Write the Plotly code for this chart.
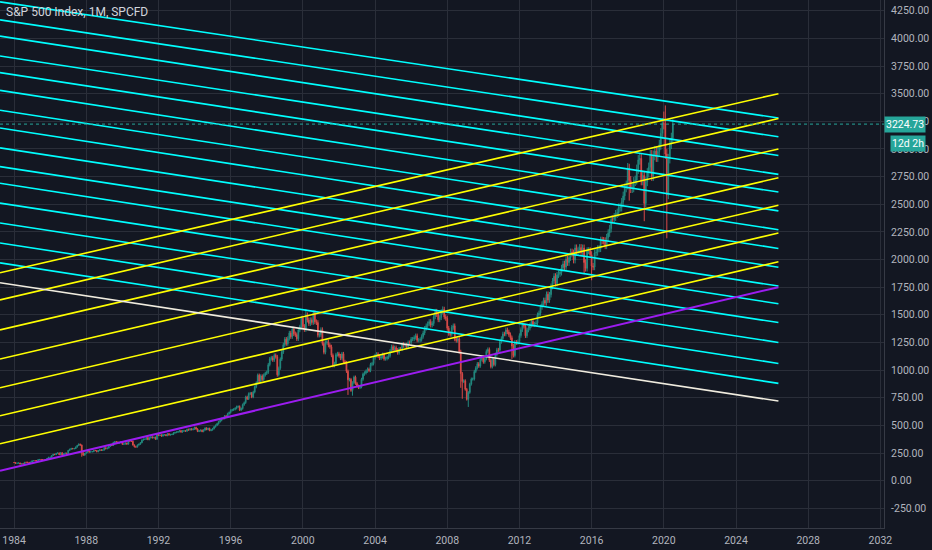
import plotly.graph_objects as go

closes_by_year = {
1984:[163.4,157.1,159.2,160.1,150.6,153.2,150.7,166.7,166.1,166.1,163.6,167.2],
1985:[179.6,181.2,180.7,179.8,189.6,191.9,190.9,188.6,182.1,189.8,202.2,211.3],
1986:[211.8,226.9,238.9,235.5,247.4,250.8,236.1,252.9,231.3,244.0,249.2,242.2],
1987:[274.1,284.2,291.7,288.4,290.1,304.0,318.7,329.8,321.8,251.8,230.3,247.1],
1988:[257.1,267.8,258.9,261.3,262.2,273.5,272.0,261.5,271.9,279.0,273.7,277.7],
1989:[297.5,288.9,294.9,309.6,320.5,318.0,346.1,351.5,349.2,340.4,346.0,353.4],
1990:[329.1,331.9,339.9,330.8,361.2,358.0,356.2,322.6,306.1,304.0,322.2,330.2],
1991:[343.9,367.1,375.2,375.3,389.8,371.2,387.8,395.4,387.9,392.5,375.2,417.1],
1992:[408.8,412.7,403.7,415.0,415.4,408.1,424.2,414.0,417.8,418.7,431.4,435.7],
1993:[438.8,443.4,451.7,440.2,450.2,450.5,448.1,463.6,458.9,467.8,461.8,466.5],
1994:[481.6,467.1,445.8,450.9,456.5,444.3,458.3,475.5,462.7,472.4,453.7,459.3],
1995:[470.4,487.4,500.7,514.7,533.4,544.8,562.1,561.9,584.4,581.5,605.4,615.9],
1996:[636.0,640.4,645.5,654.2,669.1,670.6,639.9,652.0,687.3,705.3,757.0,740.7],
1997:[786.2,790.8,757.1,801.3,848.3,885.1,954.3,899.5,947.3,914.6,955.4,970.4],
1998:[980.3,1049.3,1101.8,1111.8,1090.8,1133.8,1120.7,957.3,1017.0,1098.7,1163.6,1229.2],
1999:[1279.6,1238.3,1286.4,1335.2,1301.8,1372.7,1328.7,1320.4,1282.7,1362.9,1388.9,1469.3],
2000:[1394.5,1366.4,1498.6,1452.4,1420.6,1454.6,1430.8,1517.7,1436.5,1429.4,1315.2,1320.3],
2001:[1366.0,1239.9,1160.3,1249.5,1255.8,1224.4,1211.2,1133.6,1040.9,1059.8,1139.5,1148.1],
2002:[1130.2,1106.7,1147.4,1076.9,1067.1,989.8,911.6,916.1,815.3,885.8,936.3,879.8],
2003:[855.7,841.2,848.2,916.9,963.6,974.5,990.3,1008.0,996.0,1050.7,1058.2,1111.9],
2004:[1131.1,1144.9,1126.2,1107.3,1120.7,1140.8,1101.7,1104.2,1114.6,1130.2,1173.8,1211.9],
2005:[1181.3,1203.6,1180.6,1156.9,1191.5,1191.3,1234.2,1220.3,1228.8,1207.0,1249.5,1248.3],
2006:[1280.1,1280.7,1294.9,1310.6,1270.1,1270.2,1276.7,1303.8,1335.9,1377.9,1400.6,1418.3],
2007:[1438.2,1406.8,1420.9,1482.4,1530.6,1503.4,1455.3,1474.0,1526.8,1549.4,1481.1,1468.4],
2008:[1378.6,1330.6,1322.7,1385.6,1400.4,1280.0,1267.4,1282.8,1166.4,968.8,896.2,903.3],
2009:[825.9,735.1,797.9,872.8,919.1,919.3,987.5,1020.6,1057.1,1036.2,1095.6,1115.1],
2010:[1073.9,1104.5,1169.4,1186.7,1089.4,1030.7,1101.6,1049.3,1141.2,1183.3,1180.6,1257.6],
2011:[1286.1,1327.2,1325.8,1363.6,1345.2,1320.6,1292.3,1218.9,1131.4,1253.3,1247.0,1257.6],
2012:[1312.4,1365.7,1408.5,1397.9,1310.3,1362.2,1379.3,1406.6,1440.7,1412.2,1416.2,1426.2],
2013:[1498.1,1514.7,1569.2,1597.6,1630.7,1606.3,1685.7,1633.0,1681.6,1756.5,1805.8,1848.4],
2014:[1782.6,1859.5,1872.3,1883.9,1923.6,1960.2,1930.7,2003.4,1972.3,2018.1,2067.6,2058.9],
2015:[1995.0,2104.5,2067.9,2085.5,2107.4,2063.1,2104.0,1972.2,1920.0,2079.4,2080.4,2043.9],
2016:[1940.2,1932.2,2059.7,2065.3,2097.0,2098.9,2173.6,2171.0,2168.3,2126.2,2198.8,2238.8],
2017:[2278.9,2363.6,2362.7,2384.2,2411.8,2423.4,2470.3,2471.7,2519.4,2575.3,2647.6,2673.6],
2018:[2823.8,2713.8,2640.9,2648.1,2705.3,2718.4,2816.3,2901.5,2914.0,2711.7,2760.2,2506.9],
2019:[2704.1,2784.5,2834.4,2945.8,2752.1,2941.8,2980.4,2926.5,2976.7,3037.6,3141.0,3230.8],
2020:[3225.5,2954.2,2584.6,2912.4,3044.3,3100.3,3224.73],
}
first_open = 164.9
high_override = {(1987,8):336.8,(2000,3):1552.9,(2007,10):1576.1,(2018,1):2872.9,(2020,2):3393.5,(2020,1):3337.8,(2020,7):3268.0}
low_override = {(1987,10):216.5,(1998,8):939.9,(2002,7):775.7,(2002,10):768.6,(2008,10):839.8,(2008,11):741.0,(2009,3):666.8,(2011,8):1101.5,(2015,8):1867.0,(2016,1):1812.3,(2018,2):2532.7,(2018,12):2346.6,(2020,3):2191.9}

cyan_left = [4330,4167,4020,3840,3690,3530,3350,3190,3010,2840,2690,2510,2330,2150,1970]
cyan_right = [3280,3110,2940,2770,2610,2440,2270,2100,1930,1760,1600,1430,1250,1060,880]
yellow_left = [1880,1635,1364,1100,840,587,334]
yellow_right = [3500,3275,3000,2740,2490,2240,1980]
white_line = [1790,720]
purple_line = [90,1750]
line_x = [1983.22,2026.35]
last_price = 3224.73

xs, o, h, l, c = [], [], [], [], []
prev = first_open
for yr in sorted(closes_by_year):
    for m, cl in enumerate(closes_by_year[yr], start=1):
        xs.append(yr + (m - 1) / 12)
        op = prev
        hi = high_override.get((yr, m), max(op, cl) * 1.015)
        lo = low_override.get((yr, m), min(op, cl) * 0.985)
        o.append(op); h.append(hi); l.append(lo); c.append(cl)
        prev = cl

fig = go.Figure()
def seg(ys, col, w=1.6):
    fig.add_trace(go.Scatter(x=line_x, y=ys, mode="lines", line=dict(color=col, width=w),
                             hoverinfo="skip", showlegend=False))
for a, b in zip(cyan_left, cyan_right):
    seg([a, b], "#00ffff")
for a, b in zip(yellow_left, yellow_right):
    seg([a, b], "#ffff00")
seg(white_line, "#f0ecdf")
seg(purple_line, "#9c1cf0", 2)

fig.add_trace(go.Candlestick(x=xs, open=o, high=h, low=l, close=c,
    increasing=dict(line=dict(color="#22897f", width=1), fillcolor="#22897f"),
    decreasing=dict(line=dict(color="#d84a48", width=1), fillcolor="#d84a48"),
    whiskerwidth=0, showlegend=False))

fig.add_trace(go.Scatter(x=[1983.22, 2032.2], y=[last_price, last_price], mode="lines",
    line=dict(color="#26a69a", width=1, dash="dot"), hoverinfo="skip", showlegend=False))

tickv = list(range(-250, 4251, 250))
fig.update_layout(
    width=932, height=550, margin=dict(l=0, r=48, t=0, b=22, autoexpand=False),
    paper_bgcolor="#131722", plot_bgcolor="#131722",
    font=dict(family="Roboto, Arial", color="#b2b5be", size=10.5),
    xaxis=dict(range=[1983.22, 2032.2], tickvals=list(range(1984, 2033, 4)),
               ticktext=[str(v) for v in range(1984, 2033, 4)], automargin=False,
               gridcolor="#2a2e39", zeroline=False, rangeslider=dict(visible=False),
               showline=True, linecolor="#363a45", ticks="", ticklabelstandoff=2),
    yaxis=dict(range=[-428, 4347], side="right", tickvals=tickv, automargin=False,
               ticktext=[f"{v:.2f}" for v in tickv], gridcolor="#2a2e39",
               zeroline=False, showline=True, linecolor="#363a45", ticks="",
               ticklabelstandoff=4),
    annotations=[
        dict(text="S&P 500 Index, 1M, SPCFD", x=0.005, y=0.995, xref="paper", yref="paper",
             xanchor="left", yanchor="top", showarrow=False, font=dict(color="#d1d4dc", size=12)),
        dict(text="3224.73", x=1.0, y=last_price, xref="paper", yref="y", xanchor="left",
             showarrow=False, bgcolor="#26a69a", font=dict(color="white", size=10.5), xshift=0,
             borderpad=1),
        dict(text="12d 2h", x=1.0, y=last_price, xref="paper", yref="y", xanchor="left",
             showarrow=False, bgcolor="#26a69a", font=dict(color="white", size=10.5), xshift=6,
             yshift=-19, borderpad=1),
    ],
)
fig.write_html("out.html", config={"displayModeBar": False},
               post_script="document.body.style.margin='0';document.body.style.background='#131722';")
